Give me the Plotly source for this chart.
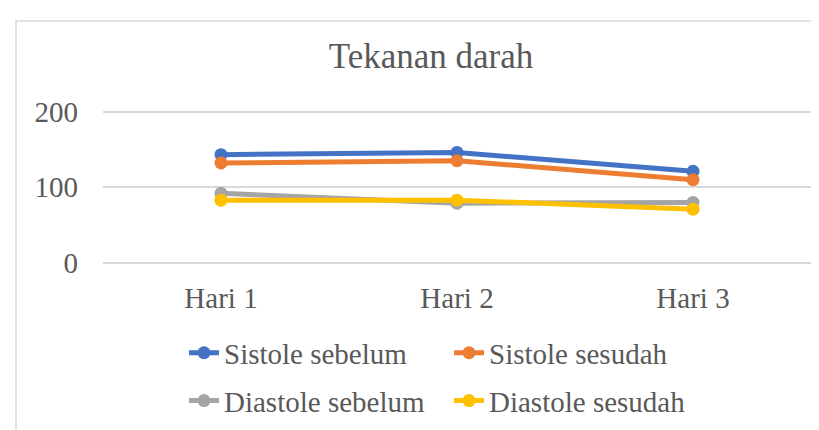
import plotly.graph_objects as go

categories = ["Hari 1", "Hari 2", "Hari 3"]
sistole_sebelum = [143, 146, 121]
sistole_sesudah = [132, 135, 110]
diastole_sebelum = [92, 79, 80]
diastole_sesudah = [83, 83, 71]
y_ticks = [0, 100, 200]

series = [
    ("Sistole sebelum", sistole_sebelum, "#4472C4", "legend"),
    ("Sistole sesudah", sistole_sesudah, "#ED7D31", "legend"),
    ("Diastole sebelum", diastole_sebelum, "#A5A5A5", "legend2"),
    ("Diastole sesudah", diastole_sesudah, "#FFC000", "legend2"),
]

W, H = 819, 430
L, R, T, B = 95, 16, 102, 168
pw, ph = W - L - R, H - T - B

fig = go.Figure()
for name, vals, color, lg in series:
    fig.add_trace(go.Scatter(
        x=categories, y=vals, name=name, mode="lines+markers",
        line=dict(color=color, width=5),
        marker=dict(color=color, size=13),
        legend=lg,
    ))

font_family = "Liberation Serif, Times New Roman, serif"
txt = "#595959"
fs = 29

def px_x(px):
    return (px - L) / pw

def px_y(py):
    return (H - B - py) / ph

fig.update_layout(
    width=W, height=H,
    margin=dict(l=L, r=R, t=T, b=B),
    paper_bgcolor="white", plot_bgcolor="white",
    font=dict(family=font_family, color=txt, size=fs),
    title=dict(text="Tekanan darah", x=423 / W, xanchor="center",
               y=1 - 48 / H, yanchor="middle", yref="container",
               font=dict(size=35, color=txt, family=font_family)),
    xaxis=dict(type="category", range=[-0.5, 2.5], showgrid=False,
               showline=False, ticks="", ticklabelstandoff=15,
               tickfont=dict(size=fs, color=txt)),
    yaxis=dict(range=[0, 202], tickvals=y_ticks, showgrid=True,
               gridcolor="#D9D9D9", gridwidth=1.5, zeroline=True,
               zerolinecolor="#D9D9D9", zerolinewidth=1.5,
               showline=False, ticks="", ticklabelstandoff=24,
               tickfont=dict(size=fs, color=txt)),
    legend=dict(orientation="h", x=px_x(176), y=px_y(356), xanchor="left",
                yanchor="middle", entrywidth=220, entrywidthmode="pixels",
                font=dict(size=fs, color=txt), bgcolor="rgba(0,0,0,0)"),
    legend2=dict(orientation="h", x=px_x(176), y=px_y(406), xanchor="left",
                 yanchor="middle", entrywidth=220, entrywidthmode="pixels",
                 font=dict(size=fs, color=txt), bgcolor="rgba(0,0,0,0)"),
    showlegend=True,
    shapes=[dict(type="rect", xref="paper", yref="paper",
                 x0=px_x(8), x1=px_x(830), y0=px_y(440), y1=px_y(9),
                 line=dict(color="#D9D9D9", width=1.5), layer="below")],
)

fig.write_html("out.html")
